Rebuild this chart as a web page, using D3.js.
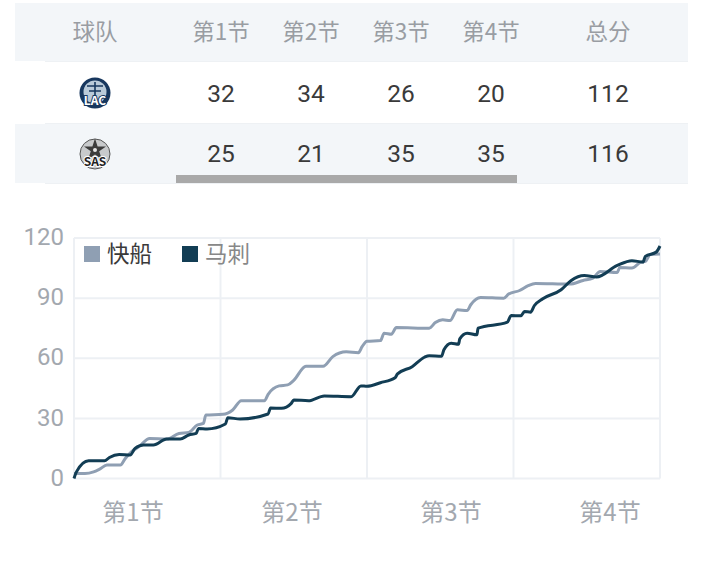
<!DOCTYPE html>
<html>
<head>
<meta charset="utf-8">
<script src="https://cdn.jsdelivr.net/npm/d3@7"></script>
<style>
  html, body { margin: 0; padding: 0; background: #fff; }
  text { font-family: "Noto Sans CJK SC", "Noto Sans", sans-serif; }
  .num { font-family: Roboto, "Noto Sans CJK SC", sans-serif; font-weight: 400; }
</style>
</head>
<body>
<div id="chart-area"></div>
<script>
var headers = ["球队", "第1节", "第2节", "第3节", "第4节", "总分"];
var teamCodes = ["LAC", "SAS"];
var clippersQuarters = [32, 34, 26, 20, 112];
var spursQuarters = [25, 21, 35, 35, 116];

var legendNames = ["快船", "马刺"];
var quarterLabels = ["第1节", "第2节", "第3节", "第4节"];
var yTicks = [0, 30, 60, 90, 120];
var quarterMinutes = [0, 12, 24, 36, 48];

var clippersMinutes = [0, 0.9, 1.6, 2.1, 2.7, 3.8, 4.2, 4.7, 5.3, 6.2, 7.6, 8.6, 9.4, 10.1, 10.6, 10.8, 12.2, 13, 13.7, 15.6, 15.9, 16.8, 17.5, 18, 19, 20.4, 21.2, 22.3, 23.3, 23.6, 24, 25.1, 25.4, 26, 26.4, 29.1, 29.6, 30.2, 30.8, 31.4, 32.2, 32.5, 33.3, 35.2, 35.6, 36.5, 37.2, 37.8, 40.6, 41.7, 42.5, 43.1, 44.5, 44.7, 45.7, 46.4, 46.8, 47.2, 48];
var clippersScores = [2.5, 2.5, 3.3, 4.7, 6.7, 6.7, 10, 13.3, 15.8, 20, 19.7, 22.5, 23, 26.7, 27.5, 31.7, 32, 34.2, 38.8, 38.8, 42, 46.2, 46.7, 49, 56, 56, 60.8, 63.2, 62.8, 65.8, 68.5, 68.8, 72.5, 72, 75.3, 75, 77.8, 79.2, 78.8, 84.2, 83.8, 86.7, 90.3, 90, 92, 93.8, 96.2, 97.3, 97, 98.8, 100, 103.3, 102.8, 105.3, 105, 107.8, 108.3, 111.7, 112];

var spursMinutes = [0, 0.2, 1.2, 2.5, 2.9, 3.7, 4.6, 5, 5.7, 6.5, 7.6, 8.7, 9.4, 10, 10.2, 10.9, 12.4, 12.6, 13.6, 15.9, 16.1, 17, 17.8, 18, 19.2, 20.5, 22.7, 23.5, 24, 25.1, 26.3, 26.5, 27.7, 28.7, 29.1, 30.1, 30.3, 30.9, 31.5, 31.6, 32.2, 33, 33.1, 35.5, 35.8, 36.6, 36.9, 37.4, 37.7, 38.4, 39.9, 40.7, 41.8, 42.8, 44.5, 45.7, 46.6, 46.8, 47.7, 48];
var spursScores = [0, 3.3, 8.8, 8.8, 10.5, 12, 11.7, 15, 16.7, 16.7, 19.7, 19.7, 21.7, 22.5, 25, 24.7, 27.2, 30.3, 29.7, 32.2, 35.2, 35, 37.5, 39.2, 38.8, 41.2, 40.8, 46.2, 46, 47.8, 50.3, 52.2, 55.8, 60.5, 61.3, 61, 64.2, 67.5, 67, 69.7, 72.5, 71.7, 75, 78, 81.3, 81.2, 83.3, 83, 86.2, 89.7, 94.2, 98.7, 101.3, 100.5, 106.3, 108.7, 108, 110.8, 113, 116];

var clippersColor = "#8f9fb3";
var spursColor = "#123d54";
var gridColor = "#edf0f4";

var svg = d3.select("#chart-area")
  .append("svg")
  .attr("width", 713)
  .attr("height", 564)
  .style("display", "block");

// score table
var rows = [
  { cells: headers, top: 3, height: 58, fill: "#f3f6f9", color: "#999da3", size: 22.5 },
  { code: teamCodes[0], cells: clippersQuarters, top: 63, height: 60, fill: "#ffffff", color: "#3a3a3a", size: 24.5 },
  { code: teamCodes[1], cells: spursQuarters, top: 124, height: 59, fill: "#f3f6f9", color: "#3a3a3a", size: 24.5 }
];
var colX = [95, 221, 311, 401, 491, 608];

rows.forEach(function(r) {
  svg.append("rect")
    .attr("x", 15).attr("y", r.top)
    .attr("width", 673).attr("height", r.height)
    .attr("fill", r.fill);
  svg.append("line")
    .attr("x1", 45).attr("x2", 688)
    .attr("y1", r.top + r.height + 0.5).attr("y2", r.top + r.height + 0.5)
    .attr("stroke", "#eef1f4");

  var xs = r.code ? colX.slice(1) : colX;
  r.cells.forEach(function(v, i) {
    svg.append("text")
      .attr("class", r.code ? "num" : null)
      .attr("x", xs[i])
      .attr("y", r.top + r.height / 2)
      .attr("dy", "0.36em")
      .attr("text-anchor", "middle")
      .attr("font-size", r.size)
      .attr("fill", r.color)
      .text(v);
  });
});

// team badges
var lac = svg.append("g").attr("transform", "translate(95,93)");
lac.append("circle").attr("r", 15.5).attr("fill", "#17375e");
lac.append("circle").attr("r", 11.5).attr("cy", -1).attr("fill", "#b9cad9");
lac.append("path").attr("d", "M-8,-7L8,-7M0,-11L0,2M-6,-2L6,-2")
  .attr("stroke", "#17375e").attr("stroke-width", 1.6);
lac.append("text")
  .attr("y", 12)
  .attr("text-anchor", "middle")
  .attr("font-size", 12)
  .attr("font-weight", 700)
  .attr("fill", "#ffffff")
  .attr("stroke", "#17375e")
  .attr("stroke-width", 2)
  .attr("paint-order", "stroke")
  .text(teamCodes[0]);

var sas = svg.append("g").attr("transform", "translate(95,154)");
sas.append("circle").attr("r", 15).attr("fill", "#c8cacc").attr("stroke", "#555555").attr("stroke-width", 1);
sas.append("path")
  .attr("d", d3.symbol().type(d3.symbolStar).size(150)())
  .attr("transform", "translate(0,-4)")
  .attr("fill", "#3c3c3c");
sas.append("circle").attr("r", 2).attr("cy", -4).attr("fill", "#e6e6e6");
sas.append("text")
  .attr("y", 12)
  .attr("text-anchor", "middle")
  .attr("font-size", 12)
  .attr("font-weight", 700)
  .attr("fill", "#222222")
  .attr("stroke", "#ffffff")
  .attr("stroke-width", 2)
  .attr("paint-order", "stroke")
  .text(teamCodes[1]);

// scroll bar under the table
svg.append("rect")
  .attr("x", 176).attr("y", 175)
  .attr("width", 341).attr("height", 8)
  .attr("fill", "#a9a9a9");

// line chart
var x = d3.scaleLinear().domain([0, 48]).range([74, 660]);
var y = d3.scaleLinear().domain([0, 120]).range([478.5, 238]);

var yAxis = d3.axisLeft(y).tickValues(yTicks).tickSize(0).tickPadding(10);
var yG = svg.append("g").attr("transform", "translate(74,0)").call(yAxis);
yG.select(".domain").remove();
yG.selectAll("text")
  .attr("class", "num")
  .attr("font-size", 24)
  .attr("dy", "0.28em")
  .attr("fill", "#a3a8af");

svg.append("g").selectAll("line")
  .data(yTicks)
  .enter()
  .append("line")
  .attr("x1", x(0)).attr("x2", x(48))
  .attr("y1", function(d) { return y(d); })
  .attr("y2", function(d) { return y(d); })
  .attr("stroke", gridColor).attr("stroke-width", 2);

svg.append("g").selectAll("line")
  .data(quarterMinutes)
  .enter()
  .append("line")
  .attr("x1", function(d) { return x(d); })
  .attr("x2", function(d) { return x(d); })
  .attr("y1", y(120)).attr("y2", y(0))
  .attr("stroke", gridColor).attr("stroke-width", 2);

var xLabels = d3.scaleBand().domain(quarterLabels).range([53.5, 689.5]);
var xAxis = d3.axisBottom(xLabels).tickSize(0).tickPadding(25);
var xG = svg.append("g").attr("transform", "translate(0," + y(0) + ")").call(xAxis);
xG.select(".domain").remove();
xG.selectAll("text")
  .attr("font-size", 24)
  .attr("font-family", "'Noto Sans CJK SC', sans-serif")
  .attr("fill", "#a3a8af");

var line = d3.line()
  .curve(d3.curveMonotoneX)
  .x(function(d) { return x(d[0]); })
  .y(function(d) { return y(d[1]); });

svg.append("path")
  .datum(d3.zip(clippersMinutes, clippersScores))
  .attr("d", line)
  .attr("fill", "none")
  .attr("stroke", clippersColor)
  .attr("stroke-width", 3)
  .attr("stroke-linejoin", "round");

svg.append("path")
  .datum(d3.zip(spursMinutes, spursScores))
  .attr("d", line)
  .attr("fill", "none")
  .attr("stroke", spursColor)
  .attr("stroke-width", 3)
  .attr("stroke-linejoin", "round");

// legend
var legendX = [84, 182];
var legendColors = [clippersColor, spursColor];
var legendText = ["#3a3a3a", "#888888"];
legendNames.forEach(function(name, i) {
  svg.append("rect")
    .attr("x", legendX[i]).attr("y", 246)
    .attr("width", 16).attr("height", 16)
    .attr("fill", legendColors[i]);
  svg.append("text")
    .attr("x", legendX[i] + 23).attr("y", 254)
    .attr("dy", "0.36em")
    .attr("font-size", 22.5)
    .attr("fill", legendText[i])
    .text(name);
});
</script>
</body>
</html>
